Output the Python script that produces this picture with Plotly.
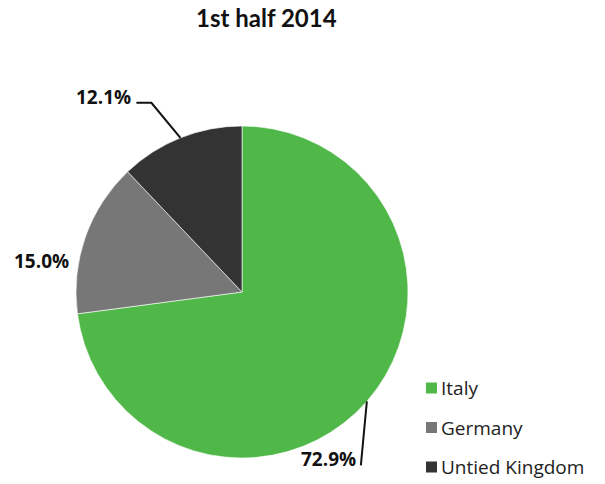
import math
import plotly.graph_objects as go

# ---- data ----
categories = ["Italy", "Germany", "Untied Kingdom"]
values = [72.9, 15.0, 12.1]
colors = ["#50b848", "#777777", "#333333"]
title_text = "1st half 2014"

# ---- layout geometry (pixels) ----
W, H = 605, 484
cx, cy, R = 242, 292, 166
LABEL_FONT = dict(family="Open Sans", size=19, color="#111")
LEGEND_FONT = dict(family="Open Sans", size=19, color="#222")

def px(x):
    return x / W

def py(y):
    return 1 - y / H

fig = go.Figure()
fig.add_trace(go.Pie(
    labels=categories, values=values, sort=False, direction="clockwise",
    rotation=0, textinfo="none", showlegend=False,
    marker=dict(colors=colors, line=dict(color="white", width=0.6)),
    domain=dict(x=[px(cx - R), px(cx + R)], y=[py(cy + R), py(cy - R)]),
))

# label placement relative to each slice's edge point (offsets in px)
label_style = {
    "Italy": dict(elbow=(-6, 64), tail=(0, 0), text=(-3, -6)),
    "Germany": None,
    "Untied Kingdom": dict(elbow=(-29, -35), tail=(-15, 0), text=(-3, -6)),
}
germany_offset = (-5, 24)

shapes = []
annotations = []
total = sum(values)
cum = 0
for cat, v in zip(categories, values):
    theta = math.radians(360 * (cum + v / 2) / total)
    cum += v
    ex = cx + R * math.sin(theta)
    ey = cy - R * math.cos(theta)
    pct = f"<b>{100 * v / total:.1f}%</b>"
    st = label_style[cat]
    if st is None:
        tx, ty = cx - R + germany_offset[0], ey + germany_offset[1]
        annotations.append(dict(x=px(tx), y=py(ty), xref="paper", yref="paper",
                                text=pct, showarrow=False, xanchor="right", yanchor="middle",
                                font=LABEL_FONT))
        continue
    bx, by = ex + st["elbow"][0], ey + st["elbow"][1]
    tx2, ty2 = bx + st["tail"][0], by + st["tail"][1]
    path = f"M {px(ex)} {py(ey)} L {px(bx)} {py(by)} L {px(tx2)} {py(ty2)}"
    shapes.append(dict(type="path", path=path, xref="paper", yref="paper",
                       line=dict(color="#111", width=2)))
    annotations.append(dict(x=px(tx2 + st["text"][0]), y=py(ty2 + st["text"][1]),
                            xref="paper", yref="paper", text=pct, showarrow=False,
                            xanchor="right", yanchor="middle", font=LABEL_FONT))

# manual legend
leg_x, leg_y0, leg_dy, sq = 426, 388, 39.5, 11
for i, (cat, col) in enumerate(zip(categories, colors)):
    yc = leg_y0 + i * leg_dy
    shapes.append(dict(type="rect", xref="paper", yref="paper",
                       x0=px(leg_x), x1=px(leg_x + sq), y0=py(yc - sq / 2), y1=py(yc + sq / 2),
                       fillcolor=col, line=dict(width=0)))
    annotations.append(dict(x=px(leg_x + sq + 2), y=py(yc), xref="paper", yref="paper",
                            text=cat, showarrow=False, xanchor="left", yanchor="middle",
                            font=LEGEND_FONT))

annotations.append(dict(x=px(266), y=py(18), xref="paper", yref="paper", text=f"<b>{title_text}</b>",
                        showarrow=False, xanchor="center", yanchor="middle",
                        font=dict(family="Lato", size=24, color="#111")))

fig.update_layout(
    width=W, height=H, margin=dict(l=0, r=0, t=0, b=0),
    paper_bgcolor="white", plot_bgcolor="white",
    shapes=shapes, annotations=annotations,
)

fig.write_html("out.html")
